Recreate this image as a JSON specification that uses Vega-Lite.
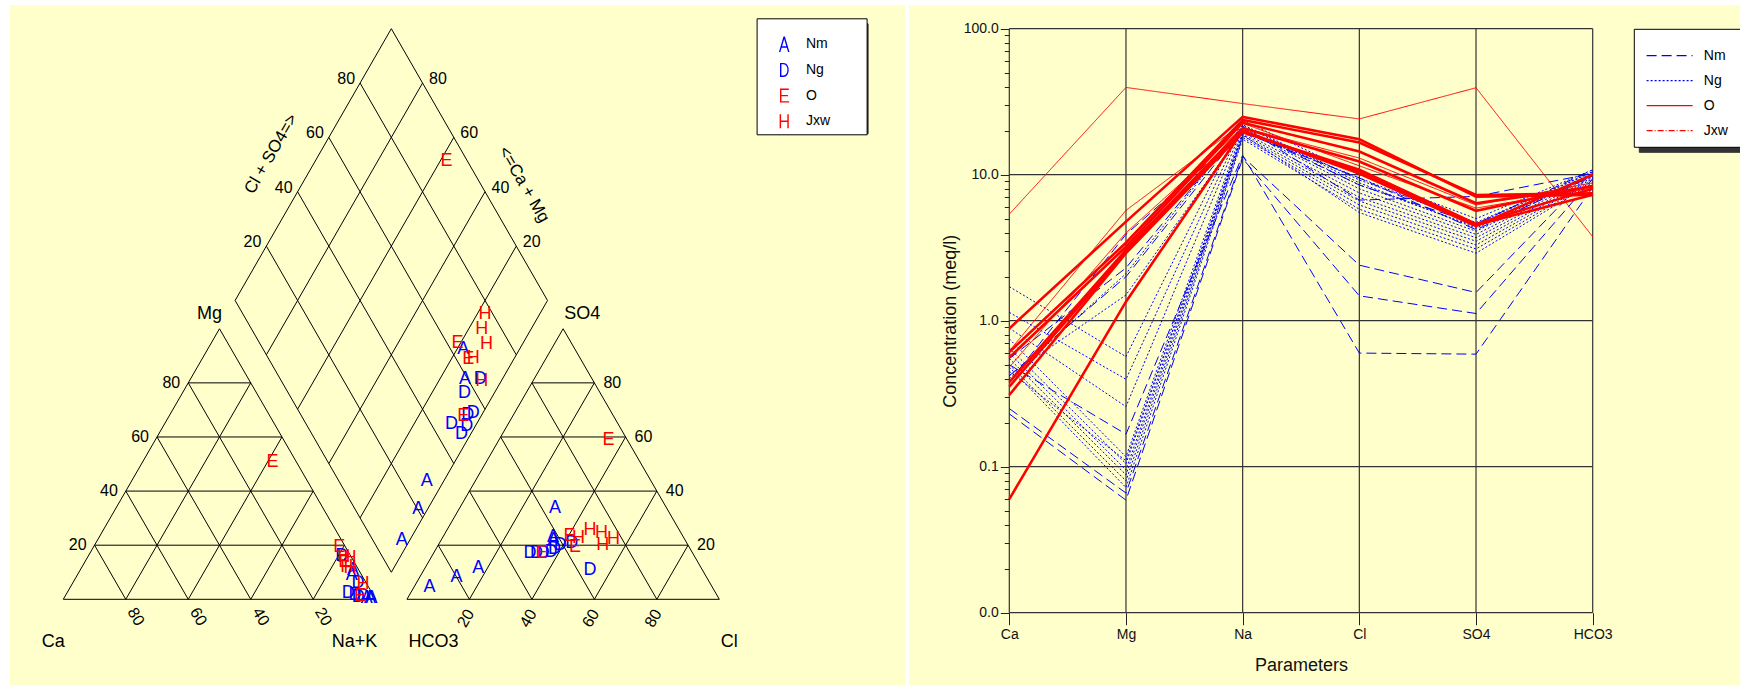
{
"$schema": "https://vega.github.io/schema/vega-lite/v6.json",
"background": "white",
"padding": {"left": 10, "top": 5, "right": 0, "bottom": 0},
"spacing": 4,
"bounds": "flush",
"config": {
  "font": "Liberation Sans",
  "view": {"stroke": null},
  "text": {"font": "Liberation Sans"},
  "axis": {"labelFont": "Liberation Sans", "titleFont": "Liberation Sans"},
  "legend": {"labelFont": "Liberation Sans", "titleFont": "Liberation Sans"}
},
"resolve": {"scale": {"color": "independent", "shape": "independent", "strokeDash": "independent", "size": "independent", "strokeWidth": "independent"}, "legend": {"color": "independent", "shape": "independent", "strokeDash": "independent", "size": "independent", "strokeWidth": "independent"}},
"datasets": {
  "piper": [
    {"k":"g","tri":"c","p":0,"q":0,"p2":100,"q2":0},
    {"k":"g","tri":"c","p":0,"q":20,"p2":80,"q2":20},
    {"k":"g","tri":"c","p":0,"q":40,"p2":60,"q2":40},
    {"k":"g","tri":"c","p":0,"q":60,"p2":40,"q2":60},
    {"k":"g","tri":"c","p":0,"q":80,"p2":20,"q2":80},
    {"k":"g","tri":"c","p":0,"q":0,"p2":0,"q2":100},
    {"k":"g","tri":"c","p":20,"q":0,"p2":20,"q2":80},
    {"k":"g","tri":"c","p":40,"q":0,"p2":40,"q2":60},
    {"k":"g","tri":"c","p":60,"q":0,"p2":60,"q2":40},
    {"k":"g","tri":"c","p":80,"q":0,"p2":80,"q2":20},
    {"k":"g","tri":"c","p":100,"q":0,"p2":0,"q2":100},
    {"k":"g","tri":"c","p":80,"q":0,"p2":0,"q2":80},
    {"k":"g","tri":"c","p":60,"q":0,"p2":0,"q2":60},
    {"k":"g","tri":"c","p":40,"q":0,"p2":0,"q2":40},
    {"k":"g","tri":"c","p":20,"q":0,"p2":0,"q2":20},
    {"k":"g","tri":"a","p":0,"q":0,"p2":100,"q2":0},
    {"k":"g","tri":"a","p":0,"q":20,"p2":80,"q2":20},
    {"k":"g","tri":"a","p":0,"q":40,"p2":60,"q2":40},
    {"k":"g","tri":"a","p":0,"q":60,"p2":40,"q2":60},
    {"k":"g","tri":"a","p":0,"q":80,"p2":20,"q2":80},
    {"k":"g","tri":"a","p":0,"q":0,"p2":0,"q2":100},
    {"k":"g","tri":"a","p":20,"q":0,"p2":20,"q2":80},
    {"k":"g","tri":"a","p":40,"q":0,"p2":40,"q2":60},
    {"k":"g","tri":"a","p":60,"q":0,"p2":60,"q2":40},
    {"k":"g","tri":"a","p":80,"q":0,"p2":80,"q2":20},
    {"k":"g","tri":"a","p":100,"q":0,"p2":0,"q2":100},
    {"k":"g","tri":"a","p":80,"q":0,"p2":0,"q2":80},
    {"k":"g","tri":"a","p":60,"q":0,"p2":0,"q2":60},
    {"k":"g","tri":"a","p":40,"q":0,"p2":0,"q2":40},
    {"k":"g","tri":"a","p":20,"q":0,"p2":0,"q2":20},
    {"k":"g","tri":"d","p":0,"q":0,"p2":100,"q2":0},
    {"k":"g","tri":"d","p":0,"q":20,"p2":100,"q2":20},
    {"k":"g","tri":"d","p":0,"q":40,"p2":100,"q2":40},
    {"k":"g","tri":"d","p":0,"q":60,"p2":100,"q2":60},
    {"k":"g","tri":"d","p":0,"q":80,"p2":100,"q2":80},
    {"k":"g","tri":"d","p":0,"q":100,"p2":100,"q2":100},
    {"k":"g","tri":"d","p":0,"q":0,"p2":0,"q2":100},
    {"k":"g","tri":"d","p":20,"q":0,"p2":20,"q2":100},
    {"k":"g","tri":"d","p":40,"q":0,"p2":40,"q2":100},
    {"k":"g","tri":"d","p":60,"q":0,"p2":60,"q2":100},
    {"k":"g","tri":"d","p":80,"q":0,"p2":80,"q2":100},
    {"k":"g","tri":"d","p":100,"q":0,"p2":100,"q2":100},

    {"k":"pt","tri":"c","p":81.1,"q":16.0,"g":"Ng"},
    {"k":"pt","tri":"c","p":91.3,"q":6.0,"g":"Ng"},
    {"k":"pt","tri":"c","p":90.1,"q":2.2,"g":"Ng"},
    {"k":"pt","tri":"c","p":92.6,"q":1.6,"g":"Ng"},
    {"k":"pt","tri":"c","p":95.3,"q":1.2,"g":"Ng"},
    {"k":"pt","tri":"c","p":94.0,"q":0.8,"g":"Ng"},
    {"k":"pt","tri":"c","p":87.3,"q":10.8,"g":"Nm"},
    {"k":"pt","tri":"c","p":87.8,"q":9.0,"g":"Nm"},
    {"k":"pt","tri":"c","p":96.9,"q":0.5,"g":"Nm"},
    {"k":"pt","tri":"c","p":97.9,"q":0.5,"g":"Nm"},
    {"k":"pt","tri":"c","p":98.5,"q":0.3,"g":"Nm"},
    {"k":"pt","tri":"c","p":78.6,"q":19.4,"g":"O"},
    {"k":"pt","tri":"c","p":41.7,"q":50.6,"g":"O"},
    {"k":"pt","tri":"c","p":83.0,"q":13.8,"g":"O"},
    {"k":"pt","tri":"c","p":94.4,"q":1.2,"g":"O"},
    {"k":"pt","tri":"c","p":82.0,"q":15.6,"g":"Jxw"},
    {"k":"pt","tri":"c","p":84.2,"q":15.2,"g":"Jxw"},
    {"k":"pt","tri":"c","p":84.7,"q":12.1,"g":"Jxw"},
    {"k":"pt","tri":"c","p":86.0,"q":11.5,"g":"Jxw"},
    {"k":"pt","tri":"c","p":93.1,"q":5.7,"g":"Jxw"},

    {"k":"pt","tri":"a","p":42.4,"q":20.7,"g":"Ng"},
    {"k":"pt","tri":"a","p":39.0,"q":20.1,"g":"Ng"},
    {"k":"pt","tri":"a","p":30.9,"q":17.0,"g":"Ng"},
    {"k":"pt","tri":"a","p":33.0,"q":17.0,"g":"Ng"},
    {"k":"pt","tri":"a","p":35.0,"q":17.2,"g":"Ng"},
    {"k":"pt","tri":"a","p":37.4,"q":17.5,"g":"Ng"},
    {"k":"pt","tri":"a","p":53.2,"q":10.8,"g":"Ng"},
    {"k":"pt","tri":"a","p":38.0,"q":18.5,"g":"Ng"},
    {"k":"pt","tri":"a","p":30.6,"q":33.6,"g":"Nm"},
    {"k":"pt","tri":"a","p":36.0,"q":21.9,"g":"Nm"},
    {"k":"pt","tri":"a","p":17.1,"q":11.5,"g":"Nm"},
    {"k":"pt","tri":"a","p":11.7,"q":8.35,"g":"Nm"},
    {"k":"pt","tri":"a","p":4.9,"q":4.66,"g":"Nm"},
    {"k":"pt","tri":"a","p":35.2,"q":23.1,"g":"Nm"},
    {"k":"pt","tri":"a","p":35.1,"q":58.9,"g":"O"},
    {"k":"pt","tri":"a","p":40.3,"q":23.4,"g":"O"},
    {"k":"pt","tri":"a","p":44.1,"q":19.4,"g":"O"},
    {"k":"pt","tri":"a","p":34.5,"q":17.2,"g":"O"},
    {"k":"pt","tri":"a","p":45.8,"q":25.6,"g":"Jxw"},
    {"k":"pt","tri":"a","p":50.0,"q":24.6,"g":"Jxw"},
    {"k":"pt","tri":"a","p":55.0,"q":22.2,"g":"Jxw"},
    {"k":"pt","tri":"a","p":52.6,"q":20.1,"g":"Jxw"},
    {"k":"pt","tri":"a","p":43.5,"q":22.8,"g":"Jxw"},

    {"k":"pt","tri":"d","p":92.9,"q":64.0,"g":"Ng"},
    {"k":"pt","tri":"d","p":90.4,"q":56.4,"g":"Ng"},
    {"k":"pt","tri":"d","p":96.9,"q":55.6,"g":"Ng"},
    {"k":"pt","tri":"d","p":92.1,"q":46.5,"g":"Ng"},
    {"k":"pt","tri":"d","p":97.0,"q":48.0,"g":"Ng"},
    {"k":"pt","tri":"d","p":97.3,"q":51.0,"g":"Ng"},
    {"k":"pt","tri":"d","p":95.5,"q":53.5,"g":"Ng"},
    {"k":"pt","tri":"d","p":82.0,"q":64.1,"g":"Nm"},
    {"k":"pt","tri":"d","p":88.0,"q":59.2,"g":"Nm"},
    {"k":"pt","tri":"d","p":94.6,"q":28.1,"g":"Nm"},
    {"k":"pt","tri":"d","p":97.0,"q":20.3,"g":"Nm"},
    {"k":"pt","tri":"d","p":97.4,"q":9.3,"g":"Nm"},
    {"k":"pt","tri":"d","p":42.0,"q":93.4,"g":"O"},
    {"k":"pt","tri":"d","p":78.9,"q":63.4,"g":"O"},
    {"k":"pt","tri":"d","p":85.4,"q":63.9,"g":"O"},
    {"k":"pt","tri":"d","p":94.3,"q":51.8,"g":"O"},
    {"k":"pt","tri":"d","p":82.45,"q":77.55,"g":"Jxw"},
    {"k":"pt","tri":"d","p":84.2,"q":73.7,"g":"Jxw"},
    {"k":"pt","tri":"d","p":88.5,"q":72.5,"g":"Jxw"},
    {"k":"pt","tri":"d","p":86.9,"q":65.6,"g":"Jxw"},
    {"k":"pt","tri":"d","p":93.8,"q":64.1,"g":"Jxw"},

    {"k":"cb","tri":"c","p":20,"q":0,"t":"80"},
    {"k":"cb","tri":"c","p":40,"q":0,"t":"60"},
    {"k":"cb","tri":"c","p":60,"q":0,"t":"40"},
    {"k":"cb","tri":"c","p":80,"q":0,"t":"20"},
    {"k":"cl","tri":"c","p":0,"q":20,"t":"20"},
    {"k":"cl","tri":"c","p":0,"q":40,"t":"40"},
    {"k":"cl","tri":"c","p":0,"q":60,"t":"60"},
    {"k":"cl","tri":"c","p":0,"q":80,"t":"80"},
    {"k":"ab","tri":"a","p":20,"q":0,"t":"20"},
    {"k":"ab","tri":"a","p":40,"q":0,"t":"40"},
    {"k":"ab","tri":"a","p":60,"q":0,"t":"60"},
    {"k":"ab","tri":"a","p":80,"q":0,"t":"80"},
    {"k":"ar","tri":"a","p":80,"q":20,"t":"20"},
    {"k":"ar","tri":"a","p":60,"q":40,"t":"40"},
    {"k":"ar","tri":"a","p":40,"q":60,"t":"60"},
    {"k":"ar","tri":"a","p":20,"q":80,"t":"80"},
    {"k":"dl","tri":"d","p":0,"q":20,"t":"20"},
    {"k":"dl","tri":"d","p":0,"q":40,"t":"40"},
    {"k":"dl","tri":"d","p":0,"q":60,"t":"60"},
    {"k":"dl","tri":"d","p":0,"q":80,"t":"80"},
    {"k":"dr","tri":"d","p":80,"q":100,"t":"20"},
    {"k":"dr","tri":"d","p":60,"q":100,"t":"40"},
    {"k":"dr","tri":"d","p":40,"q":100,"t":"60"},
    {"k":"dr","tri":"d","p":20,"q":100,"t":"80"},
    {"k":"tl","tri":"d","p":0,"q":50,"t":"Cl + SO4=>"},
    {"k":"tr","tri":"d","p":50,"q":100,"t":"<=Ca + Mg"},
    {"k":"kr","tri":"c","p":0,"q":0,"t":"Ca"},
    {"k":"kr","tri":"c","p":100,"q":0,"t":"Na+K"},
    {"k":"kl","tri":"a","p":0,"q":0,"t":"HCO3"},
    {"k":"kl","tri":"a","p":100,"q":0,"t":"Cl"},
    {"k":"mg","tri":"c","p":0,"q":100,"t":"Mg"},
    {"k":"so","tri":"a","p":0,"q":100,"t":"SO4"}
  ],
  "sch": [
    {"s":"G1","g":"Ng","Ca":1.71,"Mg":0.567,"Na":23.5,"Cl":10.0,"SO4":5.0,"HCO3":10.8},
    {"s":"G2","g":"Ng","Ca":1.14,"Mg":0.397,"Na":22.0,"Cl":9.2,"SO4":4.7,"HCO3":10.5},
    {"s":"G3","g":"Ng","Ca":0.89,"Mg":0.258,"Na":21.0,"Cl":8.5,"SO4":4.4,"HCO3":10.2},
    {"s":"G4","g":"Ng","Ca":0.75,"Mg":0.117,"Na":20.5,"Cl":8.0,"SO4":4.1,"HCO3":10.0},
    {"s":"G5","g":"Ng","Ca":0.65,"Mg":0.105,"Na":19.5,"Cl":7.5,"SO4":3.9,"HCO3":9.8},
    {"s":"G6","g":"Ng","Ca":0.60,"Mg":0.095,"Na":19.0,"Cl":7.0,"SO4":3.7,"HCO3":9.6},
    {"s":"G7","g":"Ng","Ca":0.55,"Mg":0.088,"Na":18.5,"Cl":6.6,"SO4":3.5,"HCO3":9.4},
    {"s":"G8","g":"Ng","Ca":0.50,"Mg":0.080,"Na":18.0,"Cl":6.2,"SO4":3.3,"HCO3":9.2},
    {"s":"G9","g":"Ng","Ca":0.48,"Mg":0.072,"Na":17.5,"Cl":5.8,"SO4":3.1,"HCO3":9.0},
    {"s":"G10","g":"Ng","Ca":0.45,"Mg":0.110,"Na":18.8,"Cl":5.5,"SO4":2.9,"HCO3":8.8},
    {"s":"G11","g":"Ng","Ca":0.42,"Mg":1.50,"Na":20.0,"Cl":9.5,"SO4":4.6,"HCO3":10.4},
    {"s":"G12","g":"Ng","Ca":0.40,"Mg":2.10,"Na":21.8,"Cl":8.8,"SO4":4.3,"HCO3":9.9},
    {"s":"N1","g":"Nm","Ca":0.25,"Mg":0.066,"Na":13.3,"Cl":2.40,"SO4":1.56,"HCO3":10.5},
    {"s":"N2","g":"Nm","Ca":0.23,"Mg":0.059,"Na":12.9,"Cl":1.48,"SO4":1.12,"HCO3":9.4},
    {"s":"N3","g":"Nm","Ca":0.50,"Mg":0.167,"Na":13.6,"Cl":0.60,"SO4":0.59,"HCO3":8.2},
    {"s":"N4","g":"Nm","Ca":0.42,"Mg":2.0,"Na":20.5,"Cl":8.5,"SO4":4.6,"HCO3":10.8},
    {"s":"N5","g":"Nm","Ca":0.55,"Mg":2.3,"Na":21.5,"Cl":6.7,"SO4":7.1,"HCO3":10.2},
    {"s":"N6","g":"Nm","Ca":0.38,"Mg":3.9,"Na":19.5,"Cl":9.5,"SO4":4.2,"HCO3":9.8},
    {"s":"O1","g":"O","Ca":5.37,"Mg":39.6,"Na":30.7,"Cl":24.1,"SO4":39.4,"HCO3":3.76},
    {"s":"O2","g":"O","Ca":0.62,"Mg":5.7,"Na":22.5,"Cl":11.5,"SO4":5.9,"HCO3":8.1},
    {"s":"O3","g":"O","Ca":0.48,"Mg":4.0,"Na":21.0,"Cl":13.0,"SO4":6.2,"HCO3":8.8},
    {"s":"J1","g":"Jxw","Ca":0.885,"Mg":4.77,"Na":24.9,"Cl":17.5,"SO4":7.07,"HCO3":7.26},
    {"s":"J2","g":"Jxw","Ca":0.61,"Mg":3.42,"Na":23.7,"Cl":16.6,"SO4":7.26,"HCO3":7.46},
    {"s":"J3","g":"Jxw","Ca":0.56,"Mg":3.21,"Na":22.7,"Cl":14.4,"SO4":6.37,"HCO3":8.3},
    {"s":"J4","g":"Jxw","Ca":0.38,"Mg":3.05,"Na":20.8,"Cl":12.3,"SO4":5.66,"HCO3":8.4},
    {"s":"J5","g":"Jxw","Ca":0.354,"Mg":2.95,"Na":19.7,"Cl":10.5,"SO4":4.52,"HCO3":7.3},
    {"s":"J6","g":"Jxw","Ca":0.06,"Mg":1.35,"Na":20.0,"Cl":10.2,"SO4":4.45,"HCO3":10.0},
    {"s":"J7","g":"Jxw","Ca":0.31,"Mg":2.9,"Na":19.5,"Cl":10.8,"SO4":4.6,"HCO3":8.0}
  ],
  "gridv": [{"gv":0.01},{"gv":0.1},{"gv":1},{"gv":10},{"gv":100}],
  "ions": [{"ion":"Ca"},{"ion":"Mg"},{"ion":"Na"},{"ion":"Cl"},{"ion":"SO4"},{"ion":"HCO3"}]
},
"hconcat": [
  {
    "width": 895, "height": 680,
    "view": {"fill": "#FFFFCC", "stroke": null},
    "data": {"name": "piper"},
    "transform": [
      {"calculate": "datum.tri=='d' ? 55 + 0.5*datum.p + 0.5*datum.q : (datum.tri=='a' ? 110 : 0) + datum.p + datum.q/2", "as": "u"},
      {"calculate": "datum.tri=='d' ? 8.66 + 0.87*(100 - datum.p + datum.q) : 0.8660254*datum.q", "as": "v"},
      {"calculate": "datum.tri=='d' ? 55 + 0.5*datum.p2 + 0.5*datum.q2 : (datum.tri=='a' ? 110 : 0) + datum.p2 + datum.q2/2", "as": "u2"},
      {"calculate": "datum.tri=='d' ? 8.66 + 0.87*(100 - datum.p2 + datum.q2) : 0.8660254*datum.q2", "as": "v2"},
      {"calculate": "datum.g=='Nm' ? 'A' : datum.g=='Ng' ? 'D' : datum.g=='O' ? 'E' : 'H'", "as": "sym"}
    ],
    "encoding": {
      "x": {"field": "u", "type": "quantitative", "scale": {"domain": [-17.06, 269.43], "nice": false, "zero": false}, "axis": null},
      "y": {"field": "v", "type": "quantitative", "scale": {"domain": [-27.43, 190.24], "nice": false, "zero": false}, "axis": null}
    },
    "layer": [
      {"transform": [{"filter": "datum.k=='g'"}], "mark": {"type": "rule", "color": "#000000", "strokeWidth": 1}, "encoding": {"x2": {"field": "u2"}, "y2": {"field": "v2"}}},
      {"transform": [{"filter": "datum.k=='cb'"}], "mark": {"type": "text", "fontSize": 16, "angle": 60, "align": "left", "baseline": "middle", "dx": 11.3, "color": "#000000"}, "encoding": {"text": {"field": "t"}}},
      {"transform": [{"filter": "datum.k=='cl'"}], "mark": {"type": "text", "fontSize": 16, "align": "right", "baseline": "middle", "dx": -8, "color": "#000000"}, "encoding": {"text": {"field": "t"}}},
      {"transform": [{"filter": "datum.k=='ab'"}], "mark": {"type": "text", "fontSize": 16, "angle": -60, "align": "right", "baseline": "middle", "dx": -9.4, "dy": 6.5, "color": "#000000"}, "encoding": {"text": {"field": "t"}}},
      {"transform": [{"filter": "datum.k=='ar'"}], "mark": {"type": "text", "fontSize": 16, "align": "left", "baseline": "middle", "dx": 9, "color": "#000000"}, "encoding": {"text": {"field": "t"}}},
      {"transform": [{"filter": "datum.k=='dl'"}], "mark": {"type": "text", "fontSize": 16, "align": "right", "baseline": "middle", "dx": -5, "dy": -4, "color": "#000000"}, "encoding": {"text": {"field": "t"}}},
      {"transform": [{"filter": "datum.k=='dr'"}], "mark": {"type": "text", "fontSize": 16, "align": "left", "baseline": "middle", "dx": 6.5, "dy": -4, "color": "#000000"}, "encoding": {"text": {"field": "t"}}},
      {"transform": [{"filter": "datum.k=='tl'"}], "mark": {"type": "text", "fontSize": 17, "angle": -60, "align": "center", "baseline": "middle", "dx": -11.8, "dy": -41.7, "color": "#000000"}, "encoding": {"text": {"field": "t"}}},
      {"transform": [{"filter": "datum.k=='tr'"}], "mark": {"type": "text", "fontSize": 17, "angle": 60, "align": "center", "baseline": "middle", "dx": 44.5, "dy": -37.1, "color": "#000000"}, "encoding": {"text": {"field": "t"}}},
      {"transform": [{"filter": "datum.k=='kr'"}], "mark": {"type": "text", "fontSize": 18, "align": "right", "baseline": "middle", "dx": 1.5, "dy": 42.7, "color": "#000000"}, "encoding": {"text": {"field": "t"}}},
      {"transform": [{"filter": "datum.k=='kl'"}], "mark": {"type": "text", "fontSize": 18, "align": "left", "baseline": "middle", "dx": 1.5, "dy": 42.7, "color": "#000000"}, "encoding": {"text": {"field": "t"}}},
      {"transform": [{"filter": "datum.k=='mg'"}], "mark": {"type": "text", "fontSize": 18, "align": "right", "baseline": "middle", "dx": 2.5, "dy": -14.5, "color": "#000000"}, "encoding": {"text": {"field": "t"}}},
      {"transform": [{"filter": "datum.k=='so'"}], "mark": {"type": "text", "fontSize": 18, "align": "left", "baseline": "middle", "dx": 1, "dy": -14.5, "color": "#000000"}, "encoding": {"text": {"field": "t"}}},
      {"transform": [{"filter": "datum.k=='pt'"}], "mark": {"type": "point", "opacity": 0, "filled": true},
       "encoding": {
         "color": {"field": "g", "type": "nominal", "scale": {"domain": ["Nm","Ng","O","Jxw"], "range": ["#0000FF","#0000FF","#FF0000","#FF0000"]},
           "legend": {"orient": "none", "legendX": 746.6, "legendY": 13.3, "zindex": 2, "title": "\u200b\u2003\u2003\u2003\u2003\u2003\u2003\u2003\u2003\u2003\u2003\u2003\u2003\u2003\u2003\u2003\u2003\u2003\u2003\u2003\u2003\u2003\u2003\u2003\u2003\u200b", "titleFontSize": 4, "titlePadding": 9.7, "padding": 4.7, "fillColor": "#FFFFFF", "strokeColor": "#000000", "symbolSize": 196, "symbolOpacity": 1, "symbolStrokeWidth": 0.3, "labelFontSize": 14, "labelColor": "#000000", "labelOffset": 29.7, "rowPadding": 8.7, "labelExpr": "datum.label + '\u00a0\u00a0\u00a0\u00a0\u00a0\u00a0\u00a0\u00a0\u200b'"}},
         "shape": {"field": "g", "type": "nominal", "scale": {"domain": ["Nm","Ng","O","Jxw"], "range": [
             "M1.45,1.1L2.1,-1.1L2.3,-1.1L2.95,1.1L2.75,1.1L2.57,0.5L1.83,0.5L1.65,1.1ZM1.9,0.3L2.5,0.3L2.2,-0.75Z",
             "M1.6,-1L2.1,-1C3.1,-1 3.1,1 2.1,1L1.6,1ZM1.8,-0.8L1.8,0.8L2.1,0.8C2.85,0.8 2.85,-0.8 2.1,-0.8Z",
             "M1.6,-1L2.85,-1L2.85,-0.8L1.8,-0.8L1.8,-0.1L2.75,-0.1L2.75,0.1L1.8,0.1L1.8,0.8L2.9,0.8L2.9,1L1.6,1Z",
             "M1.55,-1L1.75,-1L1.75,-0.1L2.65,-0.1L2.65,-1L2.85,-1L2.85,1L2.65,1L2.65,0.1L1.75,0.1L1.75,1L1.55,1Z"]},
           "legend": {"orient": "none", "legendX": 746.6, "legendY": 13.3, "zindex": 2, "title": "\u200b\u2003\u2003\u2003\u2003\u2003\u2003\u2003\u2003\u2003\u2003\u2003\u2003\u2003\u2003\u2003\u2003\u2003\u2003\u2003\u2003\u2003\u2003\u2003\u2003\u200b", "titleFontSize": 4, "titlePadding": 9.7, "padding": 4.7, "fillColor": "#FFFFFF", "strokeColor": "#000000", "symbolSize": 196, "symbolOpacity": 1, "symbolStrokeWidth": 0.3, "labelFontSize": 14, "labelColor": "#000000", "labelOffset": 29.7, "rowPadding": 8.7, "labelExpr": "datum.label + '\u00a0\u00a0\u00a0\u00a0\u00a0\u00a0\u00a0\u00a0\u200b'"}},
         "size": {"field": "sym", "type": "nominal", "scale": {"domain": ["A","D","E","H"], "range": [196, 196]},
           "legend": {"orient": "none", "legendX": 751.6, "legendY": 18.3, "zindex": 1, "title": "\u200b\u2003\u2003\u2003\u2003\u2003\u2003\u2003\u2003\u2003\u2003\u2003\u2003\u2003\u2003\u2003\u2003\u2003\u2003\u2003\u2003\u2003\u2003\u2003\u2003\u200b", "titleFontSize": 4, "titlePadding": 9.7, "padding": 4.7, "fillColor": "#333333", "strokeColor": "#333333", "symbolOpacity": 0, "labelOpacity": 0, "labelFontSize": 14, "labelOffset": 0, "rowPadding": 8.7, "labelExpr": "'\u200b\u00a0\u00a0\u200b'"}}
       }},
      {"transform": [{"filter": "datum.k=='pt'"}], "mark": {"type": "text", "fontSize": 18, "align": "center", "baseline": "middle"},
       "encoding": {
         "text": {"field": "sym"},
         "color": {"field": "g", "type": "nominal", "scale": {"domain": ["Nm","Ng","O","Jxw"], "range": ["#0000FF","#0000FF","#FF0000","#FF0000"]}, "legend": null}
       }}
    ]
  },
  {
    "width": 831, "height": 680,
    "view": {"fill": "#FFFFCC", "stroke": null},
    "layer": [
      {"data": {"name": "gridv"}, "mark": {"type": "rule", "color": "#333333", "strokeWidth": 1.2},
       "encoding": {
         "y": {"field": "gv", "type": "quantitative", "scale": {"type": "log", "domain": [0.01, 100], "range": [607.7, 23.7], "nice": false},
           "axis": {"orient": "left", "offset": -100.3,
             "values": [0.01,0.02,0.03,0.04,0.05,0.06,0.07,0.08,0.09,0.1,0.2,0.3,0.4,0.5,0.6,0.7,0.8,0.9,1,2,3,4,5,6,7,8,9,10,20,30,40,50,60,70,80,90,100],
             "labelExpr": "abs(log(datum.value)/LN10 - round(log(datum.value)/LN10)) < 0.001 ? format(datum.value, '.1f') : ''",
             "labelOverlap": false, "labelFlush": false,
             "tickSize": {"condition": {"test": "abs(log(datum.value)/LN10 - round(log(datum.value)/LN10)) < 0.001", "value": 9}, "value": 5},
             "tickColor": "#222222", "domain": false, "grid": false, "labelFontSize": 14, "labelColor": "#111111", "labelPadding": 2,
             "title": "Concentration (meq/l)", "titleFontSize": 18, "titleFontWeight": "normal", "titleColor": "#111111", "titlePadding": 4}},
         "x": {"datum": "Ca", "type": "ordinal", "scale": {"type": "point", "domain": ["Ca","Mg","Na","Cl","SO4","HCO3"], "range": [100.3, 683.7], "padding": 0},
           "axis": {"orient": "bottom", "offset": -72.3, "labelAngle": 0, "tickSize": 12, "tickColor": "#222222", "domain": false, "grid": false, "labelFontSize": 14, "labelColor": "#111111", "labelPadding": 3, "title": "Parameters", "titleFontSize": 18, "titleFontWeight": "normal", "titleColor": "#111111", "titlePadding": 15}},
         "x2": {"datum": "HCO3"}
       }},
      {"data": {"name": "ions"}, "mark": {"type": "rule", "color": "#333333", "strokeWidth": 1.2},
       "encoding": {
         "x": {"field": "ion", "type": "ordinal", "scale": {"type": "point", "domain": ["Ca","Mg","Na","Cl","SO4","HCO3"], "range": [100.3, 683.7], "padding": 0},
           "axis": {"orient": "bottom", "offset": -72.3, "labelAngle": 0, "tickSize": 12, "tickColor": "#222222", "domain": false, "grid": false, "labelFontSize": 14, "labelColor": "#111111", "labelPadding": 3, "title": "Parameters", "titleFontSize": 18, "titleFontWeight": "normal", "titleColor": "#111111", "titlePadding": 15}},
         "y": {"datum": 0.01, "type": "quantitative", "scale": {"type": "log", "domain": [0.01, 100], "range": [607.7, 23.7], "nice": false},
           "axis": {"orient": "left", "offset": -100.3,
             "values": [0.01,0.02,0.03,0.04,0.05,0.06,0.07,0.08,0.09,0.1,0.2,0.3,0.4,0.5,0.6,0.7,0.8,0.9,1,2,3,4,5,6,7,8,9,10,20,30,40,50,60,70,80,90,100],
             "labelExpr": "abs(log(datum.value)/LN10 - round(log(datum.value)/LN10)) < 0.001 ? format(datum.value, '.1f') : ''",
             "labelOverlap": false, "labelFlush": false,
             "tickSize": {"condition": {"test": "abs(log(datum.value)/LN10 - round(log(datum.value)/LN10)) < 0.001", "value": 9}, "value": 5},
             "tickColor": "#222222", "domain": false, "grid": false, "labelFontSize": 14, "labelColor": "#111111", "labelPadding": 2,
             "title": "Concentration (meq/l)", "titleFontSize": 18, "titleFontWeight": "normal", "titleColor": "#111111", "titlePadding": 4}},
         "y2": {"datum": 100}
       }},
      {"data": {"name": "sch"},
       "transform": [{"fold": ["Ca","Mg","Na","Cl","SO4","HCO3"], "as": ["ion","c"]}],
       "mark": {"type": "line", "strokeWidth": 1},
       "encoding": {
         "x": {"field": "ion", "type": "ordinal", "scale": {"type": "point", "domain": ["Ca","Mg","Na","Cl","SO4","HCO3"], "range": [100.3, 683.7], "padding": 0},
           "axis": {"orient": "bottom", "offset": -72.3, "labelAngle": 0, "tickSize": 12, "tickColor": "#222222", "domain": false, "grid": false, "labelFontSize": 14, "labelColor": "#111111", "labelPadding": 3, "title": "Parameters", "titleFontSize": 18, "titleFontWeight": "normal", "titleColor": "#111111", "titlePadding": 15}},
         "y": {"field": "c", "type": "quantitative", "scale": {"type": "log", "domain": [0.01, 100], "range": [607.7, 23.7], "nice": false},
           "axis": {"orient": "left", "offset": -100.3,
             "values": [0.01,0.02,0.03,0.04,0.05,0.06,0.07,0.08,0.09,0.1,0.2,0.3,0.4,0.5,0.6,0.7,0.8,0.9,1,2,3,4,5,6,7,8,9,10,20,30,40,50,60,70,80,90,100],
             "labelExpr": "abs(log(datum.value)/LN10 - round(log(datum.value)/LN10)) < 0.001 ? format(datum.value, '.1f') : ''",
             "labelOverlap": false, "labelFlush": false,
             "tickSize": {"condition": {"test": "abs(log(datum.value)/LN10 - round(log(datum.value)/LN10)) < 0.001", "value": 9}, "value": 5},
             "tickColor": "#222222", "domain": false, "grid": false, "labelFontSize": 14, "labelColor": "#111111", "labelPadding": 2,
             "title": "Concentration (meq/l)", "titleFontSize": 18, "titleFontWeight": "normal", "titleColor": "#111111", "titlePadding": 4}},
         "color": {"field": "g", "type": "nominal", "scale": {"domain": ["Nm","Ng","O","Jxw"], "range": ["#0000FF","#0000FF","#FF0000","#FF0000"]},
           "legend": {"orient": "none", "legendX": 724.8, "legendY": 23.8, "zindex": 2, "title": null, "padding": 8.8, "fillColor": "#FFFFFF", "strokeColor": "#000000", "symbolType": "M-1.353,0L1.353,0", "symbolSize": 1156, "symbolOffset": 9, "symbolStrokeWidth": 1.2, "labelFontSize": 14, "labelColor": "#000000", "labelOffset": 16.2, "rowPadding": 0, "labelExpr": "datum.label + '\u00a0\u200b'"}},
         "strokeDash": {"field": "g", "type": "nominal", "scale": {"domain": ["Nm","Ng","O","Jxw"], "range": [[10,5],[2,2],[1,0],[6,2,1,2]]},
           "legend": {"orient": "none", "legendX": 724.8, "legendY": 23.8, "zindex": 2, "title": null, "padding": 8.8, "fillColor": "#FFFFFF", "strokeColor": "#000000", "symbolType": "M-1.353,0L1.353,0", "symbolSize": 1156, "symbolOffset": 9, "symbolStrokeWidth": 1.2, "labelFontSize": 14, "labelColor": "#000000", "labelOffset": 16.2, "rowPadding": 0, "labelExpr": "datum.label + '\u00a0\u200b'"}},
         "strokeWidth": {"field": "g", "type": "nominal", "scale": {"domain": ["Ng","Nm","O","Jxw"], "range": [1, 1]},
           "legend": {"orient": "none", "legendX": 729.8, "legendY": 28.8, "zindex": 1, "title": null, "padding": 8.8, "fillColor": "#333333", "strokeColor": "#333333", "symbolType": "M-1.353,0L1.353,0", "symbolSize": 1156, "symbolOffset": 9, "symbolOpacity": 0, "labelOpacity": 0, "labelFontSize": 14, "labelOffset": 41, "rowPadding": 0, "labelExpr": "'\u200b\u00a0\u200b'"}},
         "detail": {"field": "s"},
         "order": {"value": null}
       }},
      {"data": {"name": "sch"},
       "transform": [{"filter": "datum.g == 'Jxw'"}, {"fold": ["Ca","Mg","Na","Cl","SO4","HCO3"], "as": ["ion","c"]}],
       "mark": {"type": "line", "strokeWidth": 2.6, "color": "#FF0000"},
       "encoding": {
         "x": {"field": "ion", "type": "ordinal", "scale": {"type": "point", "domain": ["Ca","Mg","Na","Cl","SO4","HCO3"], "range": [100.3, 683.7], "padding": 0},
           "axis": {"orient": "bottom", "offset": -72.3, "labelAngle": 0, "tickSize": 12, "tickColor": "#222222", "domain": false, "grid": false, "labelFontSize": 14, "labelColor": "#111111", "labelPadding": 3, "title": "Parameters", "titleFontSize": 18, "titleFontWeight": "normal", "titleColor": "#111111", "titlePadding": 15}},
         "y": {"field": "c", "type": "quantitative", "scale": {"type": "log", "domain": [0.01, 100], "range": [607.7, 23.7], "nice": false},
           "axis": {"orient": "left", "offset": -100.3,
             "values": [0.01,0.02,0.03,0.04,0.05,0.06,0.07,0.08,0.09,0.1,0.2,0.3,0.4,0.5,0.6,0.7,0.8,0.9,1,2,3,4,5,6,7,8,9,10,20,30,40,50,60,70,80,90,100],
             "labelExpr": "abs(log(datum.value)/LN10 - round(log(datum.value)/LN10)) < 0.001 ? format(datum.value, '.1f') : ''",
             "labelOverlap": false, "labelFlush": false,
             "tickSize": {"condition": {"test": "abs(log(datum.value)/LN10 - round(log(datum.value)/LN10)) < 0.001", "value": 9}, "value": 5},
             "tickColor": "#222222", "domain": false, "grid": false, "labelFontSize": 14, "labelColor": "#111111", "labelPadding": 2,
             "title": "Concentration (meq/l)", "titleFontSize": 18, "titleFontWeight": "normal", "titleColor": "#111111", "titlePadding": 4}},
         "detail": {"field": "s"},
         "order": {"value": null}
       }}
    ]
  }
]
}
